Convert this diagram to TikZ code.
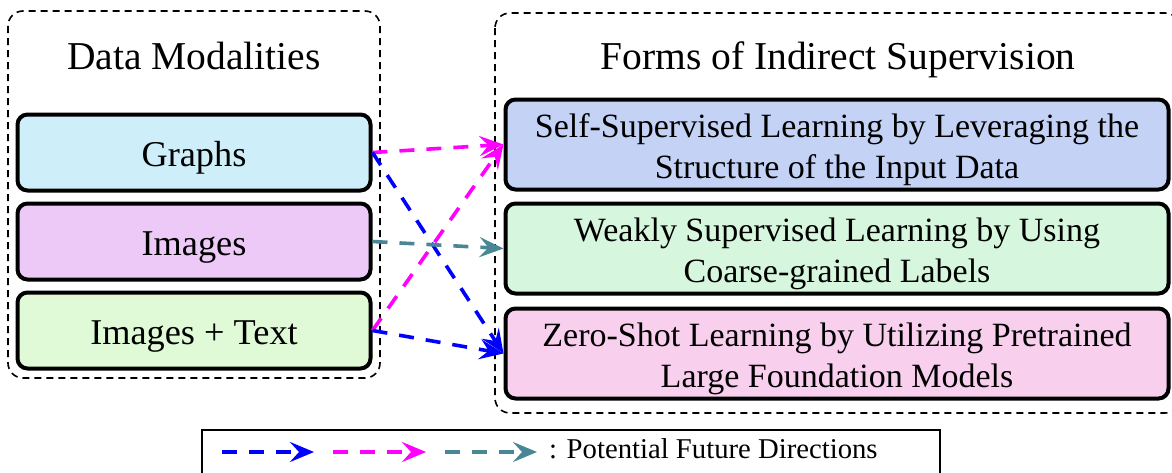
\documentclass[tikz,border=0pt]{standalone}
\usepackage{fontspec}
\setmainfont{Liberation Serif}
\usetikzlibrary{arrows.meta}

\definecolor{graphfill}{RGB}{206,239,249}
\definecolor{imgfill}{RGB}{236,201,247}
\definecolor{imgtxtfill}{RGB}{224,249,214}
\definecolor{sslfill}{RGB}{196,210,245}
\definecolor{wslfill}{RGB}{214,247,222}
\definecolor{zslfill}{RGB}{248,208,238}
\definecolor{tealarrow}{RGB}{74,135,148}
\definecolor{bluearrow}{RGB}{0,0,255}
\definecolor{magentaarrow}{RGB}{255,0,255}

\tikzset{
  groupframe/.style={draw, line width=1.6pt, dash pattern=on 7pt off 5pt, rounded corners=15pt},
  grouptitle/.style={anchor=base, inner sep=0pt, font=\fontsize{39.5}{44}\selectfont},
  modbox/.style={draw, line width=4pt, rounded corners=10pt, minimum width=353pt, minimum height=76pt,
    inner sep=0pt, text height=27pt, text depth=0pt, font=\fontsize{36.3}{42}\selectfont},
  supbox/.style={draw, line width=4pt, rounded corners=10pt, minimum width=663pt, minimum height=90pt,
    inner sep=0pt, align=center, text height=75pt, text depth=8pt, font=\fontsize{34}{41}\selectfont},
  future/.style={line width=3.6pt, dash pattern=on 15pt off 12pt,
    -{Stealth[length=24pt, width=20pt, inset=9pt]}},
}

\begin{document}
\begin{tikzpicture}[x=1pt, y=-1pt]
  \useasboundingbox (0,0) rectangle (1172,472);

  % grouping frames
  \draw[groupframe] (8,11) rectangle (380,378);
  \draw[groupframe] (495,13) rectangle (1180,413);

  \node[grouptitle] (dmtitle) at (194,69) {Data Modalities};
  \node[grouptitle] (fistitle) at (838,69) {Forms of Indirect Supervision};

  % data modalities
  \node[modbox, fill=graphfill]  (graphs) at (194,152.5) {Graphs};
  \node[modbox, fill=imgfill]    (images) at (194,241.5) {Images};
  \node[modbox, fill=imgtxtfill] (imgtxt) at (194,330.5) {Images + Text};

  % forms of indirect supervision
  \node[supbox, fill=sslfill] (ssl) at (837,144.5)
    {Self-Supervised Learning by Leveraging the\\Structure of the Input Data};
  \node[supbox, fill=wslfill] (wsl) at (837,248.5)
    {Weakly Supervised Learning by Using\\Coarse-grained Labels};
  \node[supbox, fill=zslfill] (zsl) at (837,353.5)
    {Zero-Shot Learning by Utilizing Pretrained\\Large Foundation Models};

  % potential future directions
  \draw[future, magentaarrow] (graphs.east) -- (ssl.west);
  \draw[future, bluearrow]    (graphs.east) -- (zsl.west);
  \draw[future, tealarrow]    (images.east) -- (wsl.west);
  \draw[future, magentaarrow] (imgtxt.east) -- (ssl.west);
  \draw[future, bluearrow]    (imgtxt.east) -- (zsl.west);

  % legend
  \draw[line width=1.8pt] (202,430) rectangle (940,490);
  \coordinate (lb1) at (222,452);  \coordinate (lb2) at (314,452);
  \coordinate (lm1) at (333,452);  \coordinate (lm2) at (426,452);
  \coordinate (lt1) at (445,452);  \coordinate (lt2) at (537,452);
  \draw[future, bluearrow]    (lb1) -- (lb2);
  \draw[future, magentaarrow] (lm1) -- (lm2);
  \draw[future, tealarrow]    (lt1) -- (lt2);
  \node[anchor=base west, inner sep=0pt, font=\fontsize{28.7}{32}\selectfont] (legtext) at (549,458)
    {: Potential Future Directions};
\end{tikzpicture}
\end{document}
